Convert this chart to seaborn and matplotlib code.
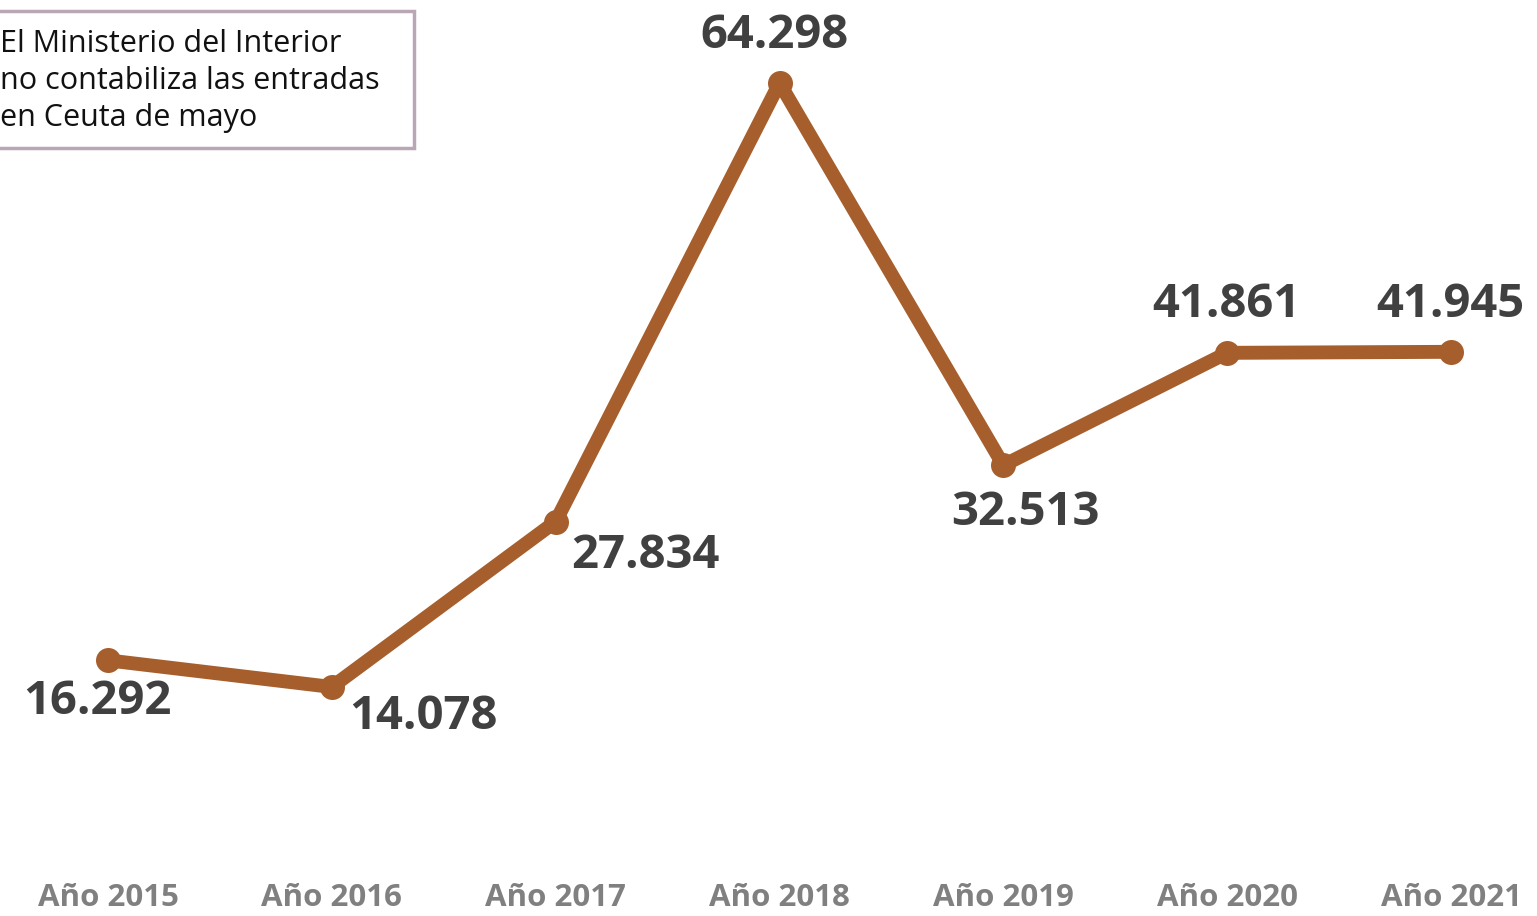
import matplotlib.pyplot as plt
import matplotlib.patches as mpatches
import pandas as pd
import seaborn as sns

# datos de entradas por año
years = ['Año 2015', 'Año 2016', 'Año 2017', 'Año 2018', 'Año 2019', 'Año 2020', 'Año 2021']
entradas = [16292, 14078, 27834, 64298, 32513, 41861, 41945]
labels = ['16.292', '14.078', '27.834', '64.298', '32.513', '41.861', '41.945']
# desplazamiento de cada etiqueta en pixeles (dx, dy)
label_offsets = [(-11, -41), (92, -30), (90, -34), (-5, 47), (22, -47), (-1, 48), (-1, 47)]

df = pd.DataFrame({'idx': range(len(years)), 'entradas': entradas})

sns.set_style('white')
plt.rcParams['font.family'] = ['Open Sans', 'DejaVu Sans']

line_color = '#A65F2C'
text_dark = '#404040'
text_grey = '#808080'

fig = plt.figure(figsize=(15.37, 9.16), dpi=100)
ax = fig.add_axes([0, 46 / 916, 1, 870 / 916])

sns.lineplot(data=df, x='idx', y='entradas', ax=ax, color=line_color, linewidth=10,
             marker='o', markersize=18, markeredgewidth=0, solid_capstyle='round')

for i, (v, lab) in enumerate(zip(entradas, labels)):
    dx, dy = label_offsets[i]
    ax.annotate(lab, (i, v), xytext=(dx, dy), textcoords='offset pixels',
                ha='center', va='center', fontsize=34, fontweight='bold', color=text_dark)

ax.set_xlim(-0.4825, 6.384)
ax.set_ylim(-1139, 71198)
ax.set_xticks(range(len(years)))
ax.set_xticklabels(years, fontsize=22.5, fontweight='bold', color=text_grey)
ax.tick_params(axis='x', length=0, pad=9)
ax.set_yticks([])
ax.set_xlabel('')
ax.set_ylabel('')
for s in ax.spines.values():
    s.set_visible(False)

# recuadro de nota
rect = mpatches.Rectangle((-5 / 1537, 1 - 148 / 916), 419 / 1537, 137 / 916,
                          transform=fig.transFigure, fill=False,
                          edgecolor='#B9A7B6', linewidth=2.5)
fig.patches.append(rect)
fig.text(0, 1 - 81 / 916, 'El Ministerio del Interior\nno contabiliza las entradas\nen Ceuta de mayo',
         ha='left', va='center', fontsize=22, color='#111111', linespacing=1.32)

fig.savefig('out.png', dpi=100)
